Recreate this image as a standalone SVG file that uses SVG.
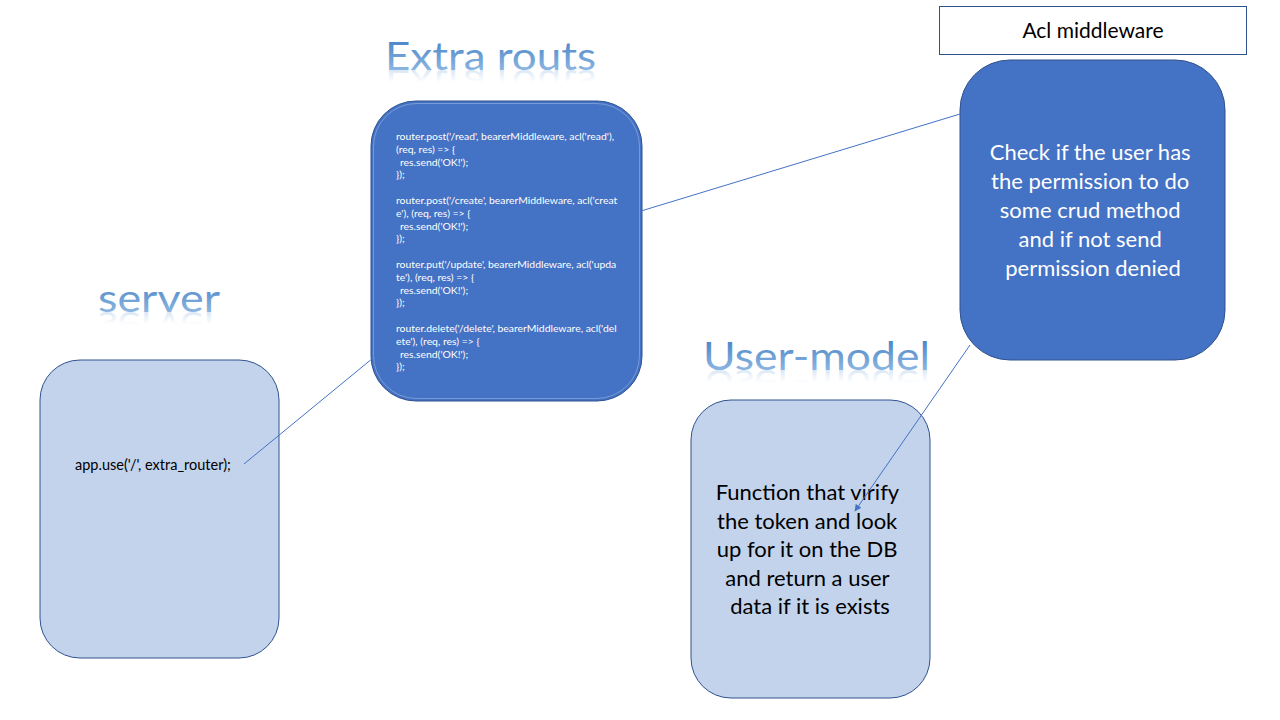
<svg xmlns="http://www.w3.org/2000/svg" xmlns:xlink="http://www.w3.org/1999/xlink" width="1280" height="720" viewBox="0 0 1280 720">
<defs>
<linearGradient id="tg" x1="0" y1="0" x2="0" y2="1">
<stop offset="0" stop-color="#3A78C0"/>
<stop offset="1" stop-color="#9CC2E8"/>
</linearGradient>
<linearGradient id="rg" x1="0" y1="0" x2="0" y2="1">
<stop offset="0" stop-color="#FFFFFF" stop-opacity="0"/>
<stop offset="0.55" stop-color="#9CC2E8" stop-opacity="0"/>
<stop offset="1" stop-color="#6FA0D6" stop-opacity="0.5"/>
</linearGradient>
<mask id="fade" maskUnits="userSpaceOnUse" x="0" y="0" width="1280" height="720">
<rect x="0" y="0" width="1280" height="720" fill="#FFFFFF"/>
</mask>
<marker id="arr" viewBox="0 0 10 10" refX="9" refY="5" markerWidth="7" markerHeight="7" orient="auto" markerUnits="userSpaceOnUse">
<path d="M0,0 L10,5 L0,10 z" fill="#4472C4"/>
</marker>
<style>
.dark{fill:#4472C4;stroke:#2F528F;stroke-width:1}
.light{fill:#C3D3EC;stroke:#2F528F;stroke-width:1}
.title{font-family:Lato,"Liberation Sans",sans-serif;font-size:38px;fill:url(#tg)}
.refl{font-family:Lato,"Liberation Sans",sans-serif;font-size:38px;fill:url(#rg)}
.code{font-family:Lato,"Liberation Sans",sans-serif;font-size:10.4px;fill:#FFFFFF}
.wt{font-family:Lato,"Liberation Sans",sans-serif;font-size:22px;fill:#FFFFFF;text-anchor:middle}
.bt{font-family:Lato,"Liberation Sans",sans-serif;font-size:22px;fill:#000000;text-anchor:middle}
.conn{stroke:#4472C4;stroke-width:1;fill:none}
</style>
</defs>
<rect width="1280" height="720" fill="#FFFFFF"/>

<g id="title-extra">
<text class="title" x="385" y="70" textLength="211" lengthAdjust="spacingAndGlyphs">Extra routs</text>
<text class="refl" x="385" y="-70" transform="scale(1,-1)" textLength="211" lengthAdjust="spacingAndGlyphs" aria-hidden="true">Extra routs</text>
</g>
<g id="title-server">
<text class="title" x="98" y="312" textLength="122" lengthAdjust="spacingAndGlyphs">server</text>
<text class="refl" x="98" y="-312" transform="scale(1,-1)" textLength="122" lengthAdjust="spacingAndGlyphs" aria-hidden="true">server</text>
</g>
<g id="title-usermodel">
<text class="title" x="703" y="370" textLength="227" lengthAdjust="spacingAndGlyphs">User-model</text>
<text class="refl" x="703" y="-370" transform="scale(1,-1)" textLength="227" lengthAdjust="spacingAndGlyphs" aria-hidden="true">User-model</text>
</g>

<g id="server">
<rect class="light" x="40" y="360" width="239" height="298" rx="40" ry="40"/>
<text x="75" y="470" font-family="Lato,'Liberation Sans',sans-serif" font-size="14.5" fill="#000">app.use('/', extra_router);</text>
</g>

<g id="extra-routs">
<rect class="dark" x="371" y="101" width="271" height="300" rx="45" ry="45"/>
<rect x="373.5" y="103.5" width="266" height="295" rx="43" ry="43" fill="none" stroke="#8FAADC" stroke-width="0.7"/>
<text class="code">
<tspan x="396" y="140">router.post('/read', bearerMiddleware, acl('read'),</tspan>
<tspan x="396" y="152.8"> (req, res) =&gt; {</tspan>
<tspan x="400" y="165.6">res.send('OK!');</tspan>
<tspan x="396" y="178.4">});</tspan>
<tspan x="396" y="204">router.post('/create', bearerMiddleware, acl('creat</tspan>
<tspan x="396" y="216.8">e'), (req, res) =&gt; {</tspan>
<tspan x="400" y="229.6">res.send('OK!');</tspan>
<tspan x="396" y="242.4">});</tspan>
<tspan x="396" y="268">router.put('/update', bearerMiddleware, acl('upda</tspan>
<tspan x="396" y="280.8">te'), (req, res) =&gt; {</tspan>
<tspan x="400" y="293.6">res.send('OK!');</tspan>
<tspan x="396" y="306.4">});</tspan>
<tspan x="396" y="332">router.delete('/delete', bearerMiddleware, acl('del</tspan>
<tspan x="396" y="344.8">ete'), (req, res) =&gt; {</tspan>
<tspan x="400" y="357.6">res.send('OK!');</tspan>
<tspan x="396" y="370.4">});</tspan>
</text>
</g>

<g id="acl-label">
<rect x="939.5" y="6.5" width="307" height="48" fill="#FFFFFF" stroke="#2F528F" stroke-width="1"/>
<text x="1093" y="38" font-family="Lato,'Liberation Sans',sans-serif" font-size="21" fill="#000" text-anchor="middle">Acl middleware</text>
</g>

<g id="acl-middleware">
<rect class="dark" x="960" y="60" width="265" height="300" rx="50" ry="50"/>
<text class="wt">
<tspan x="1093" y="160">Check if the user has</tspan>
<tspan x="1093" y="189">the permission to do</tspan>
<tspan x="1093" y="218">some crud method</tspan>
<tspan x="1093" y="247">and if not send</tspan>
<tspan x="1093" y="276">permission denied</tspan>
</text>
</g>

<g id="user-model">
<rect class="light" x="691" y="400" width="239" height="298" rx="40" ry="40"/>
<text class="bt">
<tspan x="810" y="500">Function that virify</tspan>
<tspan x="810" y="529">the token and look</tspan>
<tspan x="810" y="557">up for it on the DB</tspan>
<tspan x="810" y="586">and return a user</tspan>
<tspan x="810" y="614">data if it is exists</tspan>
</text>
</g>

<g id="connectors">
<line class="conn" x1="244" y1="464" x2="373" y2="358"/>
<line class="conn" x1="641" y1="211" x2="960" y2="114"/>
<line class="conn" x1="970" y1="345" x2="855" y2="511" marker-end="url(#arr)"/>
</g>
</svg>
